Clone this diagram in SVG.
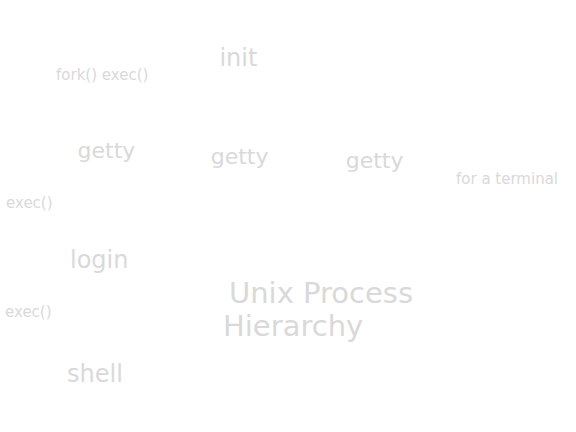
<svg xmlns="http://www.w3.org/2000/svg" width="576" height="432" viewBox="0 0 576 432">
<style>
text{font-family:"DejaVu Sans","Liberation Sans",sans-serif;fill:#d9d9d9}
.node{font-size:22px}
.big{font-size:24px}
.lbl{font-size:15px}
.title{font-size:29px}
</style>
<rect width="576" height="432" fill="#ffffff"/>
<g id="connectors"></g>
<g id="init"><text class="node big" x="219.4" y="65.5">init</text></g>
<g id="getty1"><text class="node" x="77.5" y="158">getty</text></g>
<g id="getty2"><text class="node" x="210.7" y="164">getty</text></g>
<g id="getty3"><text class="node" x="345.7" y="168">getty</text></g>
<g id="login"><text class="node big" x="70" y="268">login</text></g>
<g id="shell"><text class="node big" x="67" y="382">shell</text></g>
<g id="labels">
<text class="lbl" x="56" y="80">fork() exec()</text>
<text class="lbl" x="456" y="184">for a terminal</text>
<text class="lbl" x="6" y="208">exec()</text>
<text class="lbl" x="5" y="317">exec()</text>
</g>
<g id="title">
<text class="title" x="229" y="303">Unix Process</text>
<text class="title" x="223" y="336">Hierarchy</text>
</g>
</svg>
